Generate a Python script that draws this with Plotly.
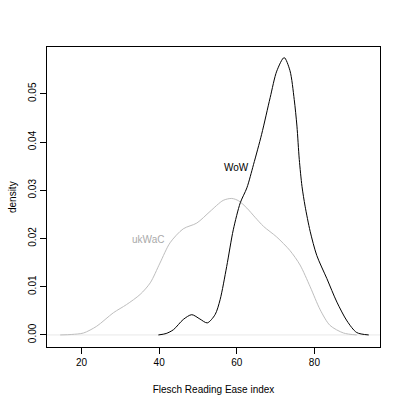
import plotly.graph_objects as go

# WoW density curve
wow_x = [39.8, 41.8, 43.7, 46.2, 48.4, 50.5, 52.4, 54.4, 55.7, 57.4, 59.1, 60.9, 62.6,
         64.3, 66.4, 68.6, 70.3, 72.2, 73.7, 74.8, 75.5, 76.1, 76.8, 77.6, 78.9, 80.6,
         83.2, 85.8, 88.4, 90.9, 94.0]
wow_y = [0.0, 0.0003, 0.0011, 0.0032, 0.0042, 0.0033, 0.0025, 0.0042, 0.0073, 0.0142,
         0.0218, 0.0274, 0.0305, 0.0353, 0.0416, 0.0492, 0.0547, 0.0575, 0.0548, 0.0488,
         0.0433, 0.0364, 0.0308, 0.0267, 0.0215, 0.0165, 0.0117, 0.0068, 0.0029, 0.0005, 0.0]

# ukWaC density curve
ukwac_x = [14.5, 17.5, 20.5, 23.9, 28.2, 31.6, 35.1, 37.7, 40.2, 42.8, 46.2, 49.7, 53.1,
           56.5, 58.7, 60.5, 62.6, 64.7, 66.9, 70.3, 73.7, 76.3, 78.9, 81.5, 84.0, 87.5, 90.9]
ukwac_y = [0.0, 0.0001, 0.0004, 0.0018, 0.0046, 0.0063, 0.0084, 0.0108, 0.0149, 0.0191,
           0.0220, 0.0232, 0.0256, 0.0279, 0.0283, 0.0278, 0.0263, 0.0244, 0.0225, 0.0203,
           0.0175, 0.0145, 0.0100, 0.0052, 0.0020, 0.0004, 0.0]

x_ticks = [20, 40, 60, 80]
y_ticks = [0.00, 0.01, 0.02, 0.03, 0.04, 0.05]
y_tick_labels = ["0.00", "0.01", "0.02", "0.03", "0.04", "0.05"]

labels = ["WoW", "ukWaC"]
label_x = [60.0, 37.0]
label_y = [0.0348, 0.0198]

FONT = "Liberation Sans, Arial, Helvetica, sans-serif"
GRAY = "#bebebe"

fig = go.Figure()
fig.add_trace(go.Scatter(x=ukwac_x, y=ukwac_y, mode="lines",
                         line=dict(color=GRAY, width=1, shape="spline", smoothing=0.8),
                         hoverinfo="skip"))
fig.add_trace(go.Scatter(x=wow_x, y=wow_y, mode="lines",
                         line=dict(color="black", width=1, shape="spline", smoothing=0.8),
                         hoverinfo="skip"))

fig.add_annotation(x=label_x[0], y=label_y[0], text=labels[0], showarrow=False,
                   font=dict(family=FONT, size=10, color="black"))
fig.add_annotation(x=label_x[1], y=label_y[1], text=labels[1], showarrow=False,
                   font=dict(family=FONT, size=10, color="#aaaaaa"))

# y-axis title placed like R's mtext
fig.add_annotation(xref="paper", yref="paper", x=-0.105, y=0.5, text="density",
                   textangle=-90, showarrow=False, xanchor="center", yanchor="middle",
                   font=dict(family=FONT, size=10, color="black"))

# zero line
fig.add_shape(type="line", xref="paper", yref="y", x0=0, x1=1, y0=0, y1=0,
              line=dict(color="#e8e8e8", width=1), layer="below")

fig.update_layout(
    width=406, height=406,
    margin=dict(l=47, r=26, t=47, b=59, autoexpand=False),
    paper_bgcolor="white", plot_bgcolor="white",
    showlegend=False,
    font=dict(family=FONT, size=10, color="black"),
)
fig.update_xaxes(
    range=[11.1, 96.9], tickvals=x_ticks, ticks="outside", ticklen=6,
    tickcolor="black", tickwidth=1, automargin=False,
    showline=True, linecolor="black", linewidth=1, mirror=True,
    showgrid=False, zeroline=False,
    tickfont=dict(family=FONT, size=10),
    title=dict(text="Flesch Reading Ease index", font=dict(family=FONT, size=10), standoff=18),
)
fig.update_yaxes(
    range=[-0.0025, 0.0597], tickvals=y_ticks, ticktext=y_tick_labels, tickangle=-90,
    ticks="outside", ticklen=6, tickcolor="black", tickwidth=1, automargin=False,
    showline=True, linecolor="black", linewidth=1, mirror=True,
    showgrid=False, zeroline=False,
    tickfont=dict(family=FONT, size=10),
)

fig.write_html("out.html", config={"displayModeBar": False},
               post_script="document.body.style.margin='0';document.body.style.overflow='hidden';")
